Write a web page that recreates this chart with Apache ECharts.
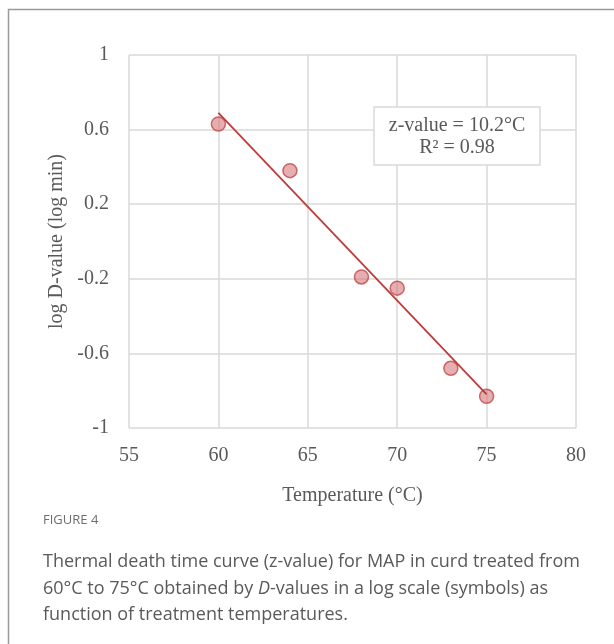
<!DOCTYPE html>
<html>
<head>
<meta charset="utf-8">
<script src="https://cdn.jsdelivr.net/npm/echarts@6/dist/echarts.min.js"></script>
<style>
  html, body { margin: 0; padding: 0; background: #fff; }
  #chart-container { width: 614px; height: 644px; }
</style>
</head>
<body>
<div id="chart-container"></div>
<script>
// measured points: temperature (°C) vs log D-value
var temps = [60, 64, 68, 70, 73, 75];
var logD = [0.63, 0.38, -0.19, -0.25, -0.68, -0.83];
// fitted line end points
var fitX = [60, 75];
var fitY = [0.69, -0.82];

var dom = document.getElementById('chart-container');
var myChart = echarts.init(dom, null, { renderer: 'canvas' });

var serif = '"Liberation Serif", "Times New Roman", serif';
var sans = '"Open Sans", "Noto Sans", sans-serif';
var textGray = '#595959';
var gridGray = '#d9d9d9';

var option = {
    animation: false,
    backgroundColor: '#fff',
    grid: { left: 129, top: 55, right: 38, bottom: 216 },
    xAxis: {
        type: 'value',
        min: 55, max: 80, interval: 5,
        name: 'Temperature (°C)',
        nameLocation: 'middle',
        nameGap: 58,
        nameTextStyle: { fontFamily: serif, fontSize: 20, color: textGray },
        axisLine: { show: false },
        axisTick: { show: false },
        axisLabel: { fontFamily: serif, fontSize: 20, color: textGray, margin: 18 },
        splitLine: { show: true, lineStyle: { color: gridGray, width: 1.5 } }
    },
    yAxis: {
        type: 'value',
        min: -1, max: 1, interval: 0.4,
        name: 'log D-value (log min)',
        nameLocation: 'middle',
        nameGap: 62,
        nameTextStyle: { fontFamily: serif, fontSize: 20, color: textGray },
        axisLine: { show: false },
        axisTick: { show: false },
        axisLabel: {
            fontFamily: serif, fontSize: 20, color: textGray, margin: 20,
            formatter: function (v) { return String(Math.round(v * 10) / 10); }
        },
        splitLine: { show: true, lineStyle: { color: gridGray, width: 1.5 } }
    },
    series: [
        {
            type: 'line',
            data: fitX.map(function (x, i) { return [x, fitY[i]]; }),
            symbol: 'none',
            lineStyle: { color: '#bf3b3b', width: 1.8 },
            z: 3
        },
        {
            type: 'scatter',
            data: temps.map(function (t, i) { return [t, logD[i]]; }),
            symbol: 'circle',
            symbolSize: 14,
            itemStyle: { color: 'rgba(214, 120, 124, 0.75)', borderColor: '#c0484a', borderWidth: 1.5 },
            z: 2
        }
    ],
    graphic: [
        {
            type: 'rect',
            shape: { x: 8.5, y: 9.5, width: 700, height: 700 },
            style: { fill: 'none', stroke: '#9a9a9a', lineWidth: 1.5 },
            silent: true
        },
        {
            type: 'rect',
            shape: { x: 374, y: 107, width: 166, height: 58 },
            style: { fill: '#fff', stroke: gridGray, lineWidth: 1.5 },
            z: 10
        },
        {
            type: 'text',
            x: 457, y: 137, z: 11,
            style: {
                text: 'z-value = 10.2°C\nR² = 0.98',
                font: '20px ' + serif, fill: textGray,
                align: 'center', verticalAlign: 'middle', lineHeight: 22
            }
        },
        {
            type: 'text',
            left: 43, top: 514,
            style: { text: 'FIGURE 4', font: '13px ' + sans, fill: '#6e6e6e' }
        },
        {
            type: 'text',
            left: 43, top: 549,
            style: {
                text: 'Thermal death time curve (z-value) for MAP in curd treated from\n60°C to 75°C obtained by {i|D}-values in a log scale (symbols) as\nfunction of treatment temperatures.',
                font: '18px ' + sans, fill: '#5a5a5a', lineHeight: 26.5,
                rich: { i: { font: 'italic 18px ' + sans, fill: '#5a5a5a' } }
            }
        }
    ]
};

myChart.setOption(option);
window.addEventListener('resize', myChart.resize);
</script>
</body>
</html>
